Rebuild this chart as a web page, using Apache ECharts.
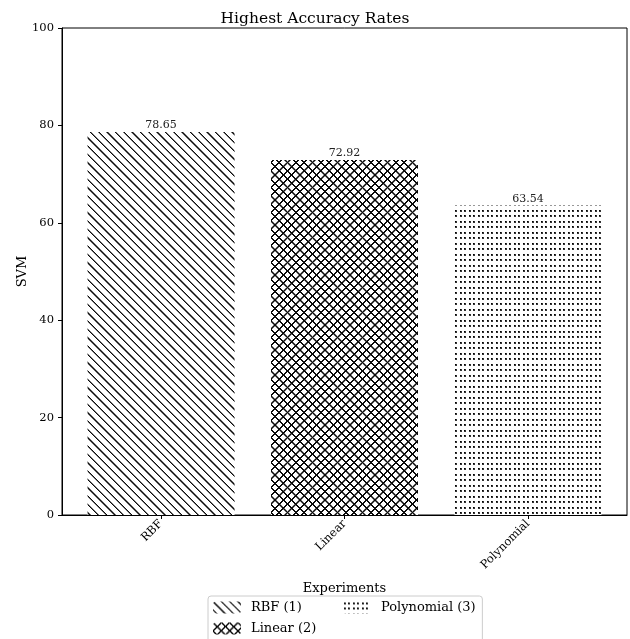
<!DOCTYPE html>
<html>
<head>
<meta charset="utf-8">
<script src="https://cdn.jsdelivr.net/npm/echarts@6/dist/echarts.min.js"></script>
<style>
  html, body { margin: 0; padding: 0; background: #fff; }
  #chart { width: 630px; height: 639px; }
</style>
</head>
<body>
<div id="chart"></div>
<script>
// Kernel experiments and their best accuracy
const categories = ['RBF', 'Linear', 'Polynomial'];
const seriesNames = ['RBF (1)', 'Linear (2)', 'Polynomial (3)'];
const accuracy = [78.65, 72.92, 63.54];
const yTicks = [0, 20, 40, 60, 80, 100];

const FONT = '"DejaVu Serif", serif';

// Hatch fills rasterised pixel by pixel on small repeating canvases
function hatchCanvas(kind) {
  const c = document.createElement('canvas');
  const ctx = c.getContext('2d');
  if (kind === 'dots') {
    // regular dot grid: two dots per 9px across, two rows per 11px down
    c.width = 9; c.height = 11;
    ctx.fillStyle = '#fff';
    ctx.fillRect(0, 0, 9, 11);
    ctx.fillStyle = '#333';
    [[1, 1], [5, 1], [1, 6], [5, 6]].forEach(([x, y]) => ctx.fillRect(x, y, 2, 2));
    ctx.fillStyle = '#000';
    [[1, 1], [5, 1], [1, 6], [5, 6]].forEach(([x, y]) => ctx.fillRect(x, y, 1, 1));
    return c;
  }
  const s = 25;
  c.width = s; c.height = s;
  const img = ctx.createImageData(s, s);
  const step = 25 / 3;
  const dark = kind === 'cross' ? 0.8 : 0.65;
  const soft = kind === 'cross' ? 1.3 : 1.15;
  const tone = (t) => {
    const a = ((t % step) + step) % step;
    const d = Math.min(a, step - a);
    return d < dark ? 10 : (d < soft ? 120 : 255);
  };
  for (let y = 0; y < s; y++) {
    for (let x = 0; x < s; x++) {
      let v = tone(x - y);
      if (kind === 'cross') v = Math.min(v, tone(x + y + 1));
      const o = (y * s + x) * 4;
      img.data[o] = v; img.data[o + 1] = v; img.data[o + 2] = v; img.data[o + 3] = 255;
    }
  }
  ctx.putImageData(img, 0, 0);
  return c;
}

const fills = [
  { image: hatchCanvas('back'), repeat: 'repeat' },
  { image: hatchCanvas('cross'), repeat: 'repeat' },
  { image: hatchCanvas('dots'), repeat: 'repeat' }
];

const series = categories.map((cat, i) => ({
  name: seriesNames[i],
  type: 'bar',
  barWidth: 147,
  barGap: '-100%',
  data: [[i, accuracy[i]]],
  itemStyle: { color: fills[i] },
  label: {
    show: true,
    position: 'top',
    distance: 1,
    formatter: p => p.value[1].toFixed(2),
    fontFamily: FONT,
    fontSize: 11,
    color: '#222'
  },
  emphasis: { disabled: true },
  animation: false
}));

const legendText = { fontFamily: FONT, fontSize: 13, color: '#000', padding: [0, 0, 0, 5] };

const chart = echarts.init(document.getElementById('chart'), null, { renderer: 'canvas' });
chart.setOption({
  backgroundColor: '#fff',
  animation: false,
  title: {
    text: 'Highest Accuracy Rates',
    left: 'center',
    top: 6,
    textStyle: { fontFamily: FONT, fontSize: 15.5, fontWeight: 'normal', color: '#000' }
  },
  grid: {
    left: 62, right: 3, top: 28, bottom: 124,
    show: true, borderColor: '#000', borderWidth: 1, backgroundColor: 'transparent'
  },
  xAxis: {
    type: 'value',
    min: -0.54,
    max: 2.54,
    name: 'Experiments',
    nameLocation: 'middle',
    nameGap: 67,
    nameTextStyle: { fontFamily: FONT, fontSize: 13, color: '#000' },
    splitLine: { show: false },
    axisLine: { show: true, onZero: false, lineStyle: { color: '#000', width: 1 } },
    axisTick: { show: true, length: 4, lineStyle: { color: '#000' }, customValues: [0, 1, 2] },
    axisLabel: {
      customValues: [0, 1, 2],
      rotate: 45,
      margin: 7,
      fontFamily: FONT,
      fontSize: 11.5,
      color: '#000',
      formatter: v => categories[Math.round(v)]
    }
  },
  yAxis: {
    type: 'value',
    min: yTicks[0],
    max: yTicks[yTicks.length - 1],
    interval: 20,
    name: 'SVM',
    nameLocation: 'middle',
    nameMoveOverlap: false,
    nameGap: 33,
    nameTextStyle: { fontFamily: FONT, fontSize: 13, color: '#000' },
    splitLine: { show: false },
    axisLine: { show: true, onZero: false, lineStyle: { color: '#000', width: 1 } },
    axisTick: { show: true, length: 4, lineStyle: { color: '#000' } },
    axisLabel: { fontFamily: FONT, fontSize: 11.5, color: '#000', margin: 8 }
  },
  legend: [
    {
      data: [seriesNames[0], seriesNames[1]],
      orient: 'vertical',
      left: 208,
      top: 596,
      height: 60,
      itemWidth: 28,
      itemHeight: 12,
      itemGap: 8,
      padding: [5, 166, 20, 5],
      borderColor: '#ccc',
      borderWidth: 1,
      borderRadius: 3,
      backgroundColor: '#fff',
      selectedMode: false,
      textStyle: legendText
    },
    {
      data: [seriesNames[2]],
      orient: 'vertical',
      left: 338,
      top: 596,
      height: 30,
      itemWidth: 28,
      itemHeight: 12,
      padding: [5, 5, 5, 5],
      selectedMode: false,
      textStyle: legendText
    }
  ],
  series: series
});
</script>
</body>
</html>
